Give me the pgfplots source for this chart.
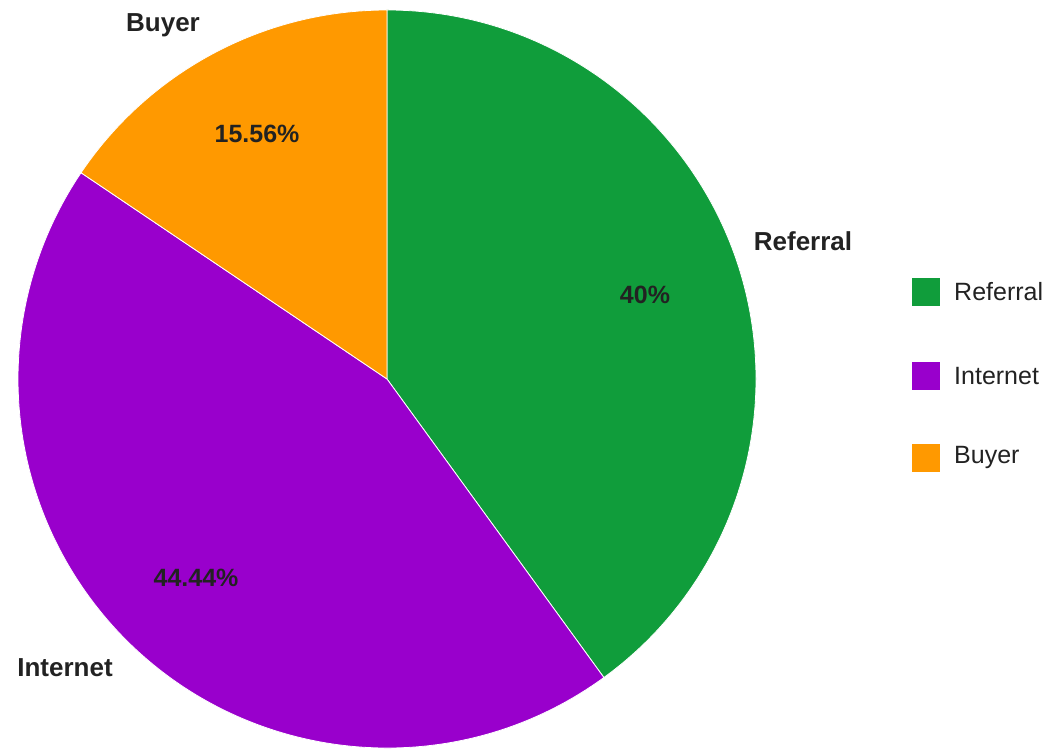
\documentclass[border=0pt]{standalone}
\usepackage{pgfplots}
\pgfplotsset{compat=1.18}
\usepackage{pgfplotstable}
\usepackage{fontspec}
\setmainfont{Liberation Sans}
\definecolor{cRef}{HTML}{109D3B}
\definecolor{cInt}{HTML}{9900CC}
\definecolor{cBuy}{HTML}{FF9900}
\definecolor{txt}{HTML}{222222}
\pgfplotstableread{
name      value
Referral  40
Internet  44.44
Buyer     15.56
}\piedata
\begin{document}
\begin{tikzpicture}
\begin{axis}[
  width=1057pt, height=749pt, scale only axis,
  xmin=0, xmax=1057, ymin=0, ymax=749,
  hide axis, clip=false,
]
\pgfplotstablegetelem{0}{value}\of\piedata \let\vA\pgfplotsretval
\pgfplotstablegetelem{1}{value}\of\piedata \let\vB\pgfplotsretval
\pgfplotstablegetelem{2}{value}\of\piedata \let\vC\pgfplotsretval
\pgfmathsetmacro{\aA}{90}
\pgfmathsetmacro{\aB}{90-3.6*\vA}
\pgfmathsetmacro{\aC}{\aB-3.6*\vB}
\pgfmathsetmacro{\aD}{\aC-3.6*\vC}
\begin{scope}[overlay]
\fill[cRef, draw=white, line width=0.8pt] (axis cs:387,370) -- ++(\aA:369pt) arc[start angle=\aA, end angle=\aB, radius=369pt] -- cycle;
\fill[cInt, draw=white, line width=0.8pt] (axis cs:387,370) -- ++(\aB:369pt) arc[start angle=\aB, end angle=\aC, radius=369pt] -- cycle;
\fill[cBuy, draw=white, line width=0.8pt] (axis cs:387,370) -- ++(\aC:369pt) arc[start angle=\aC, end angle=\aD, radius=369pt] -- cycle;
\end{scope}
% slice labels
\node[font=\fontsize{25}{30}\selectfont\bfseries, text=txt] at (axis cs:645,454) {40\%};
\node[font=\fontsize{25}{30}\selectfont\bfseries, text=txt] at (axis cs:196,171) {44.44\%};
\node[font=\fontsize{25}{30}\selectfont\bfseries, text=txt] at (axis cs:257,615) {15.56\%};
% outside labels
\node[font=\fontsize{26}{30}\selectfont\bfseries, text=txt] at (axis cs:803,508) {Referral};
\node[font=\fontsize{26}{30}\selectfont\bfseries, text=txt] at (axis cs:65,81) {Internet};
\node[font=\fontsize{26}{30}\selectfont\bfseries, text=txt] at (axis cs:163,724) {Buyer};
% legend
\fill[cRef] (axis cs:912,443) rectangle (axis cs:940,471);
\fill[cInt] (axis cs:912,359) rectangle (axis cs:940,387);
\fill[cBuy] (axis cs:912,277) rectangle (axis cs:940,305);
\node[anchor=west, font=\fontsize{25}{30}\selectfont, text=txt, inner sep=0pt] at (axis cs:954,457) {Referral};
\node[anchor=west, font=\fontsize{25}{30}\selectfont, text=txt, inner sep=0pt] at (axis cs:954,373) {Internet};
\node[anchor=west, font=\fontsize{25}{30}\selectfont, text=txt, inner sep=0pt] at (axis cs:954,291) {Buyer};
\end{axis}
\pgfresetboundingbox
\useasboundingbox (0,0) rectangle (1057pt,749pt);
\end{tikzpicture}
\end{document}
